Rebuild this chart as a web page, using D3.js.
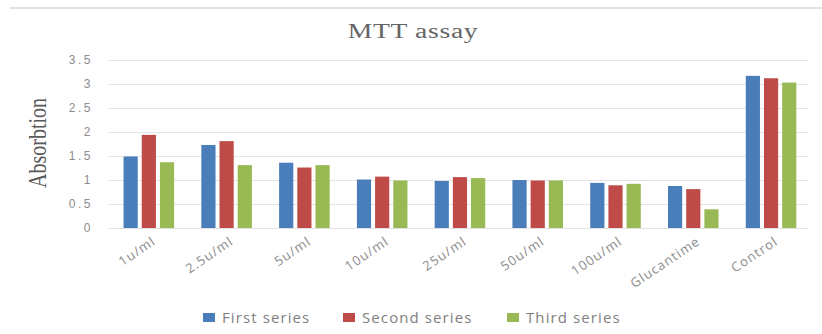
<!DOCTYPE html>
<html>
<head>
<meta charset="utf-8">
<script src="https://cdn.jsdelivr.net/npm/d3@7"></script>
<style>
  body { margin: 0; background: #fff; }
  svg { display: block; }
</style>
</head>
<body>
<svg id="chart" width="822" height="334"></svg>
<script>
const categories = ["1u/ml", "2.5u/ml", "5u/ml", "10u/ml", "25u/ml", "50u/ml", "100u/ml", "Glucantime", "Control"];
const seriesNames = ["First series", "Second series", "Third series"];
const firstSeries = [1.49, 1.73, 1.36, 1.01, 0.98, 1.0, 0.94, 0.875, 3.17];
const secondSeries = [1.94, 1.81, 1.26, 1.07, 1.06, 0.99, 0.89, 0.81, 3.12];
const thirdSeries = [1.37, 1.31, 1.31, 0.99, 1.04, 0.99, 0.92, 0.39, 3.03];
const yTicks = [0, 0.5, 1, 1.5, 2, 2.5, 3, 3.5];
const colors = ["#4a7ebb", "#be4b48", "#98b954"];

const svg = d3.select("#chart");
const margin = { left: 108, right: 14, top: 60, bottom: 106 };
const width = 822 - margin.left - margin.right;
const height = 334 - margin.top - margin.bottom;

// top frame edge
svg.append("line")
  .attr("x1", 10).attr("x2", 822).attr("y1", 8).attr("y2", 8)
  .attr("stroke", "#d9d9d9").attr("stroke-width", 1.5);

const g = svg.append("g").attr("transform", `translate(${margin.left},${margin.top})`);

const x = d3.scaleBand().domain(categories).range([0, width]);
const x1 = d3.scaleBand().domain(seriesNames).range([x.bandwidth() * 0.2, x.bandwidth() * 0.85]).paddingInner(0.22);
const y = d3.scaleLinear().domain([0, 3.5]).range([height, 0]);

//=== grid + y axis ===
g.append("g")
  .call(d3.axisLeft(y).tickValues(yTicks).tickSize(-width).tickFormat(d3.format("")))
  .call(s => s.select(".domain").remove())
  .call(s => s.selectAll("line").attr("stroke", "#e3e3e3"))
  .call(s => s.selectAll("text")
    .attr("x", -15)
    .attr("fill", "#8c8c8c")
    .style("font-family", "Liberation Sans, sans-serif")
    .style("font-size", "12px")
    .style("letter-spacing", "2.5px"));

//=== bars ===
const data = [firstSeries, secondSeries, thirdSeries];
categories.forEach((c, i) => {
  seriesNames.forEach((s, j) => {
    g.append("rect")
      .attr("x", x(c) + x1(s))
      .attr("y", y(data[j][i]))
      .attr("width", x1.bandwidth())
      .attr("height", y(0) - y(data[j][i]))
      .attr("fill", colors[j]);
  });
});

//=== x axis labels ===
g.append("g")
  .attr("transform", `translate(0,${height})`)
  .call(d3.axisBottom(x).tickSize(0))
  .call(s => s.select(".domain").remove())
  .call(s => s.selectAll("text")
    .attr("text-anchor", "end")
    .attr("dy", 0)
    .attr("transform", "translate(8,13) rotate(-34)")
    .attr("fill", "#8c8c8c")
    .style("font-family", "Open Sans, sans-serif")
    .style("font-size", "13px")
    .style("letter-spacing", "1.1px"));

//=== title ===
svg.append("text")
  .attr("transform", "translate(413,38) scale(1.38,1)")
  .attr("text-anchor", "middle")
  .attr("fill", "#646464")
  .style("font-family", "Liberation Serif, serif")
  .style("font-size", "20px")
  .style("letter-spacing", "0.5px")
  .text("MTT assay");

//=== y axis title ===
svg.append("text")
  .attr("transform", "translate(46,143) rotate(-90) scale(0.8,1)")
  .attr("text-anchor", "middle")
  .attr("fill", "#595959")
  .style("font-family", "Liberation Serif, serif")
  .style("font-size", "25px")
  .text("Absorbtion");

//=== legend ===
const legendX = [203, 343, 507];
seriesNames.forEach((s, j) => {
  const lg = svg.append("g").attr("transform", `translate(${legendX[j]},318)`);
  lg.append("rect").attr("x", 0).attr("y", -5).attr("width", 12).attr("height", 9).attr("fill", colors[j]);
  lg.append("text")
    .attr("x", 19).attr("y", 5)
    .attr("fill", "#7f7f7f")
    .style("font-family", "Open Sans, sans-serif")
    .style("font-size", "15px")
    .style("letter-spacing", "1.1px")
    .text(s);
});
</script>
</body>
</html>
